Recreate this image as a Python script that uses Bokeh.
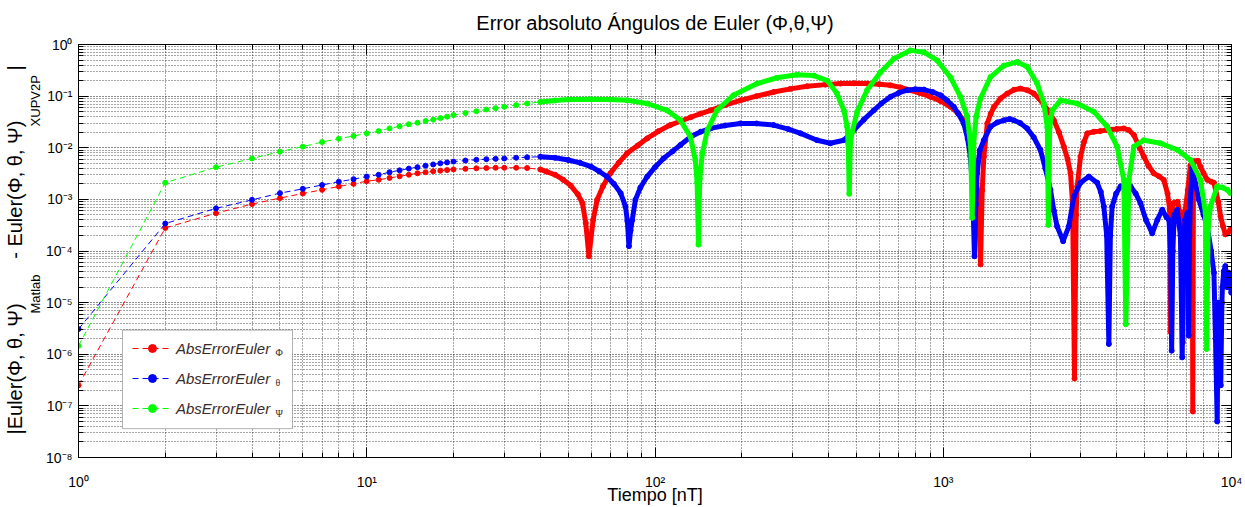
import numpy as np
from bokeh.plotting import figure
from bokeh.models import (FixedTicker, CustomJSTickFormatter, LogAxis, Label, Title,
                          Legend, LegendItem, Range1d, BoxAnnotation)
from bokeh.embed import file_html
from bokeh.resources import INLINE

# ---------------- data ----------------
red_x = [1, 2, 3, 4, 5, 6, 7, 8, 9, 10, 11, 12, 13, 14, 15, 16, 17, 18, 19, 20, 22, 24, 26, 28, 30, 33, 36, 40,
         42, 45, 48, 51, 54, 56, 57.5, 59, 61, 63, 66, 70, 75, 80, 87, 94, 103, 113, 123, 133, 144, 156, 175,
         198, 225, 258, 295, 337, 390, 440, 490, 544, 600, 656, 710, 770, 830, 903, 980, 1060, 1120, 1178,
         1220, 1260, 1290, 1311, 1330, 1347, 1365, 1383, 1422, 1460, 1500, 1580, 1667, 1760, 1854, 1960, 2062,
         2150, 2234, 2330, 2420, 2520, 2620, 2700, 2764, 2810, 2853, 2890, 2916, 2993, 3080, 3160, 3330, 3500,
         3705, 4000, 4229, 4400, 4585, 4800, 4967, 5150, 5374, 5600, 5820, 6000, 6100, 6140, 6180, 6300, 6500,
         6650, 6720, 6780, 6840, 6900, 7050, 7200, 7300, 7340, 7380, 7450, 7650, 7804, 8000, 8240, 8500, 8690,
         9000, 9160, 9350, 9520, 9700, 9910]
red_y = [2.5e-7, 2.8e-4, 5.4e-4, 8.1e-4, 1.06e-3, 1.3e-3, 1.53e-3, 1.78e-3, 2.0e-3, 2.25e-3, 2.4e-3, 2.6e-3,
         2.8e-3, 3.0e-3, 3.2e-3, 3.35e-3, 3.5e-3, 3.6e-3, 3.7e-3, 3.8e-3, 3.9e-3, 4.0e-3, 4.05e-3, 4.1e-3,
         4.1e-3, 4.1e-3, 4.05e-3, 3.8e-3,
         3.46e-3, 3.0e-3, 2.4e-3, 1.85e-3, 1.25e-3, 8.5e-4, 3.5e-4, 7.9e-5, 4.0e-4, 9.8e-4, 1.8e-3, 3.2e-3,
         5.2e-3, 7.8e-3, 1.1e-2, 1.52e-2, 2.1e-2, 2.75e-2, 3.3e-2, 3.9e-2, 4.6e-2, 5.3e-2, 6.7e-2,
         8.3e-2, 0.1, 0.12, 0.138, 0.155, 0.167, 0.175, 0.177, 0.175, 0.17, 0.162, 0.148, 0.13, 0.115, 0.097,
         0.08, 0.062, 0.048, 0.034,
         0.022, 0.0105, 4.5e-3, 1.53e-3, 4e-4, 5.5e-5, 1.5e-3, 6.7e-3, 0.0296, 0.045, 0.062, 0.09, 0.112, 0.133,
         0.14, 0.13, 0.112,
         0.09, 0.067, 0.05, 0.034, 0.02, 0.0105, 6e-3, 3.2e-3, 8e-4, 3.4e-7, 5e-4, 1.78e-3, 6.7e-3, 0.013, 0.019,
         0.0204, 0.021,
         0.022, 0.023, 0.0237, 0.022, 0.0176, 0.01, 6.7e-3, 4.5e-3, 3.2e-3, 2.8e-3, 2.4e-3, 1.3e-3, 6.5e-4, 2.7e-6,
         5e-4, 8.5e-4, 9e-4,
         5e-4, 2e-4, 1.7e-6, 3e-4, 6e-4, 1.5e-3, 4.5e-3, 5.5e-3, 7.8e-8, 5.0e-3, 5.5e-3, 5.6e-3, 4.3e-3, 3.2e-3,
         2.4e-3, 2.2e-3, 2.1e-3,
         9e-4, 4.7e-4, 3e-4, 2.1e-4, 2.2e-4, 2.6e-4]

blue_x = [1, 2, 3, 4, 5, 6, 7, 8, 9, 10, 11, 12, 13, 14, 15, 16, 17, 18, 19, 20, 22, 24, 26, 28, 30, 33, 36, 40,
          45, 50, 55, 60, 64, 68, 72, 76, 79, 80.2, 81.2, 82.3, 83.4, 85.5, 89, 94, 100, 107, 115, 122.5, 133,
          144, 156, 175, 198, 225, 258, 290, 320, 365, 406, 452, 490, 530, 574, 610, 656, 700, 750, 800, 857,
          920, 978, 1030, 1088, 1130, 1178, 1215, 1242, 1265, 1283, 1297, 1311, 1340, 1383, 1458, 1540, 1622,
          1700, 1758, 1850, 1955, 2060, 2173, 2260, 2355, 2420, 2483, 2605, 2727, 2840, 2993, 3200, 3420, 3520,
          3606, 3690, 3754, 3800, 3854, 3980, 4120, 4300, 4466, 4650, 4833, 5050, 5310, 5530, 5750, 5950, 6070,
          6150, 6200, 6260, 6330, 6485, 6650, 6745, 6830, 6900, 7020, 7060, 7100, 7150, 7200, 7310, 7500, 7710,
          8000, 8240, 8500, 8690, 8800, 8920, 9000, 9100, 9180, 9260, 9300, 9400, 9520, 9650, 9780, 9980]
blue_y = [3.07e-6, 3.4e-4, 6.7e-4, 9.8e-4, 1.32e-3, 1.6e-3, 1.9e-3, 2.2e-3, 2.46e-3, 2.77e-3, 3.0e-3, 3.36e-3,
          3.65e-3, 3.95e-3, 4.2e-3, 4.5e-3, 4.75e-3, 5.0e-3, 5.2e-3, 5.4e-3, 5.65e-3, 5.85e-3, 6.0e-3, 6.1e-3,
          6.2e-3, 6.4e-3, 6.55e-3, 6.7e-3,
          6.4e-3, 5.8e-3, 5.1e-3, 4.3e-3, 3.5e-3, 2.77e-3, 2.0e-3, 1.32e-3, 7.3e-4, 3.8e-4, 1.24e-4, 2.5e-4,
          4.0e-4, 9.8e-4, 1.7e-3, 2.77e-3, 4.2e-3, 6.2e-3, 8.5e-3, 1.13e-2, 1.63e-2,
          2.04e-2, 2.37e-2, 2.7e-2, 2.96e-2, 2.95e-2, 2.75e-2, 2.3e-2, 1.9e-2, 1.4e-2, 1.22e-2, 1.4e-2, 2.2e-2,
          3.5e-2, 5.3e-2, 7.2e-2, 9.7e-2, 0.115, 0.13, 0.136, 0.134,
          0.12, 0.104, 0.083, 0.062, 0.045, 0.0296, 0.015, 6.7e-3, 1.5e-3, 7.9e-5, 8e-4, 3.2e-3, 9e-3, 0.014,
          0.0255, 0.031, 0.034,
          0.036, 0.034, 0.03, 0.0237, 0.016, 9.1e-3, 4e-3, 1.53e-3, 6e-4, 3e-4, 1.55e-4, 3e-4, 1.14e-3, 2.1e-3,
          2.77e-3, 2.1e-3, 1.4e-3,
          7.3e-4, 2e-4, 1.58e-6, 2e-4, 7.3e-4, 1.3e-3, 1.78e-3, 1.9e-3, 1.78e-3, 1.3e-3, 8.5e-4, 4e-4, 2.2e-4,
          4e-4, 6.3e-4, 4.5e-4, 4e-4,
          1e-4, 1.17e-6, 1e-4, 5e-4, 6.3e-4, 2e-4, 8.7e-7, 2e-4, 4e-4, 5.4e-4, 1e-4, 2.3e-6, 2e-4, 1e-3, 4e-3,
          2e-3, 9.8e-4,
          5e-4, 3e-4, 1e-4, 3.8e-5, 2e-6, 5e-8, 1e-5, 2e-6, 2.5e-7, 1e-5, 2e-5, 4e-5, 5.1e-5, 2e-5, 3.8e-5, 1.56e-5]

green_x = [1, 2, 3, 4, 5, 6, 7, 8, 9, 10, 11, 12, 13, 14, 15, 16, 17, 18, 19, 20, 22, 24, 26, 28, 30, 33, 36, 40,
           45, 50, 60, 70, 80, 94, 110, 122.5, 132.7, 138, 140, 141.5, 143, 146, 152, 164, 187, 226, 265, 311,
           356, 396, 428, 452, 464, 468, 472, 476, 483, 503, 544, 606, 674, 770, 857, 953, 1060, 1148, 1211,
           1245, 1260, 1275, 1300, 1346, 1458, 1622, 1806, 1955, 2118, 2234, 2296, 2315, 2340, 2390, 2553, 2917,
           3330, 3705, 4011, 4229, 4300, 4406, 4585, 4967, 5675, 6485, 7212, 7804, 8124, 8200, 8300, 8451, 8917,
           9300, 9659, 9910]
green_y = [1.46e-6, 2.1e-3, 4.2e-3, 6.2e-3, 8.4e-3, 1.05e-2, 1.29e-2, 1.5e-2, 1.69e-2, 1.9e-2, 2.1e-2, 2.37e-2,
           2.6e-2, 2.85e-2, 3.05e-2, 3.3e-2, 3.5e-2, 3.75e-2, 4.0e-2, 4.3e-2, 4.7e-2, 5.1e-2, 5.5e-2, 5.85e-2,
           6.2e-2, 6.7e-2, 7.2e-2, 7.7e-2,
           8.2e-2, 8.6e-2, 8.7e-2, 8.6e-2, 8.3e-2, 7.2e-2, 5.3e-2, 3.4e-2, 1.63e-2, 5.8e-3, 2.1e-3, 1.33e-4,
           2.5e-3, 7.8e-3, 2.2e-2, 5.3e-2, 0.104, 0.175, 0.227, 0.26,
           0.25, 0.2, 0.112, 0.053, 0.0255, 0.012, 1.28e-3, 0.012, 0.02, 0.05, 0.13, 0.29, 0.53, 0.77, 0.71,
           0.49, 0.23, 0.097, 0.04,
           0.0105, 4.4e-4, 0.012, 0.04, 0.09, 0.234, 0.39, 0.46, 0.37, 0.175, 0.072, 0.025, 3.2e-4, 0.025, 0.053,
           0.083, 0.072,
           0.05, 0.0255, 0.0105, 2.4e-3, 3.8e-6, 2.4e-3, 0.0105, 0.014, 0.0122, 9.1e-3, 5.8e-3, 2.4e-3, 5.4e-4,
           1.26e-6, 3e-4, 7.3e-4, 1.78e-3,
           1.7e-3, 1.53e-3, 1.32e-3]

x_ticks = [1, 10, 100, 1000, 10000]
y_ticks = [1e-8, 1e-7, 1e-6, 1e-5, 1e-4, 1e-3, 1e-2, 1e-1, 1]

TITLE = "Error absoluto Ángulos de Euler (Φ,θ,Ψ)"
XLABEL = "Tiempo [nT]"
YLABEL_MAIN = ["|Euler(Φ, θ, Ψ)", "- Euler(Φ, θ, Ψ)", "|"]
YLABEL_SUBS = ["Matlab", "XUPV2P"]
LEGEND_MAIN = "AbsErrorEuler"
LEGEND_SUBS = ["Φ", "θ", "Ψ"]
COLORS = ["#ff0000", "#0000ff", "#00ff00"]

FONT = "Liberation Sans"
NB = "\u00a0"

# ---------------- layout (pixels) ----------------
W, H = 1245, 507
FL, FR, FT, FB = 78, 1231, 44, 459   # frame edges on the canvas


def to_data(px, py):
    """canvas pixel -> data coordinates (for placing annotations)"""
    return (10 ** (4.0 * (px - FL) / (FR - FL)),
            10 ** (-8.0 * (py - FT) / (FB - FT)))


p = figure(width=W, height=H, x_axis_type="log", y_axis_type="log",
           x_range=Range1d(1, 1e4), y_range=Range1d(1e-8, 1),
           output_backend="svg", toolbar_location=None,
           min_border_left=FL, min_border_right=W - FR, min_border_top=FT, min_border_bottom=H - FB)
p.background_fill_color = "white"
p.border_fill_color = "white"
p.outline_line_color = "black"
p.outline_line_width = 1

p.title.text = TITLE
p.title.align = "center"
p.title.vertical_align = "top"
p.title.text_font = FONT
p.title.text_font_style = "normal"
p.title.text_font_size = "20px"
p.title.text_color = "black"
p.title.standoff = 18

x_minor = [m * 10.0 ** k for k in range(0, 4) for m in range(2, 10)]
y_minor = [m * 10.0 ** k for k in range(-8, 0) for m in range(2, 10)]
xt = FixedTicker(ticks=x_ticks, minor_ticks=x_minor)
yt = FixedTicker(ticks=y_ticks, minor_ticks=y_minor)

sup_code = """
const e = Math.round(Math.log10(tick));
const sup = {"-":"\u207b","0":"\u2070","1":"\u00b9","2":"\u00b2","3":"\u00b3","4":"\u2074",
             "5":"\u2075","6":"\u2076","7":"\u2077","8":"\u2078","9":"\u2079"};
return "10" + String(e).split("").map(c => sup[c]).join("");
"""
fmt = CustomJSTickFormatter(code=sup_code)
blank = CustomJSTickFormatter(code="return '';")


def style_axis(ax):
    ax.major_tick_in = 10
    ax.major_tick_out = 0
    ax.minor_tick_in = 5
    ax.minor_tick_out = 0
    ax.axis_line_color = "black"
    ax.major_tick_line_color = "black"
    ax.minor_tick_line_color = "black"
    ax.major_label_text_font = FONT
    ax.major_label_text_font_size = "14px"
    ax.major_label_text_color = "black"


p.xaxis.ticker = xt
p.yaxis.ticker = yt
p.xaxis.formatter = fmt
p.yaxis.formatter = fmt
style_axis(p.xaxis[0])
style_axis(p.yaxis[0])
p.xaxis.major_label_standoff = 16
p.yaxis.major_label_standoff = 6
p.xaxis.axis_label = XLABEL
p.xaxis.axis_label_text_font = FONT
p.xaxis.axis_label_text_font_style = "normal"
p.xaxis.axis_label_text_font_size = "18px"
p.xaxis.axis_label_text_color = "black"
p.xaxis.axis_label_standoff = -8

top_ax = LogAxis(ticker=xt, formatter=blank)
right_ax = LogAxis(ticker=yt, formatter=blank)
style_axis(top_ax)
style_axis(right_ax)
top_ax.major_label_standoff = 0
right_ax.major_label_standoff = 0
p.add_layout(top_ax, "above")
p.add_layout(right_ax, "right")

for g, t in ((p.xgrid[0], xt), (p.ygrid[0], yt)):
    g.ticker = t
    g.grid_line_color = "black"
    g.grid_line_alpha = 0.9
    g.grid_line_dash = "1 2"
    g.minor_grid_line_color = "black"
    g.minor_grid_line_alpha = 0.7
    g.minor_grid_line_dash = "1 2"

# ---------------- y-axis label (two vertical title rows: main text and subscripts) ----------------
sub_text = YLABEL_SUBS[0] + NB * 41 + YLABEL_SUBS[1]
main_text = YLABEL_MAIN[0] + NB * 8 + YLABEL_MAIN[1] + NB * 9 + YLABEL_MAIN[2]
t_sub = Title(text=sub_text, align="left", offset=FB - 315, standoff=0, text_font=FONT,
              text_font_style="normal", text_font_size="13px", text_color="black")
t_main = Title(text=main_text, align="left", offset=FB - 436, standoff=0, text_font=FONT,
               text_font_style="normal", text_font_size="20px", text_color="black")
p.add_layout(t_sub, "left")
p.add_layout(t_main, "left")

# ---------------- legend box ----------------
bx0, by0 = to_data(122, 430)
bx1, by1 = to_data(292, 331)
p.add_layout(BoxAnnotation(left=bx0, right=bx1, bottom=by0, top=by1, fill_color="white", fill_alpha=1,
                           line_color="black", line_width=1, level="underlay"))

# ---------------- series ----------------
legend_items = []
for xs, ys, col in ((red_x, red_y, COLORS[0]), (blue_x, blue_y, COLORS[1]), (green_x, green_y, COLORS[2])):
    xa = np.asarray(xs, dtype=float)
    ya = np.asarray(ys, dtype=float)
    thin = p.line(xa, ya, line_color=col, line_width=1, line_dash="6 4")
    dense = xa >= 40
    p.line(xa[dense], ya[dense], line_color=col, line_width=5, line_join="round")
    pts = p.scatter(xa, ya, marker="circle", size=5, fill_color=col, line_color=col)
    legend_items.append(LegendItem(label=LEGEND_MAIN, renderers=[thin, pts]))

leg = Legend(items=legend_items, location=(122 - FL, FB - 430))
leg.label_text_font = FONT
leg.label_text_font_style = "italic"
leg.label_text_font_size = "15px"
leg.label_text_color = "#3a2a2a"
leg.border_line_alpha = 0
leg.background_fill_alpha = 0
leg.glyph_width = 40
leg.glyph_height = 20
leg.label_height = 20
leg.label_width = 106
leg.label_standoff = 4
leg.spacing = 10
leg.padding = 10
leg.margin = 0
p.add_layout(leg)

# subscripts of the legend entries
for s, py in zip(LEGEND_SUBS, (353, 384, 415)):
    sx, sy = to_data(275, py)
    p.add_layout(Label(x=sx, y=sy, text=s, text_font="Liberation Serif", text_font_size="10px",
                       text_color="#3a2a2a", text_align="left", text_baseline="middle", level="overlay"))

open("out.html", "w").write(file_html(p, INLINE))
